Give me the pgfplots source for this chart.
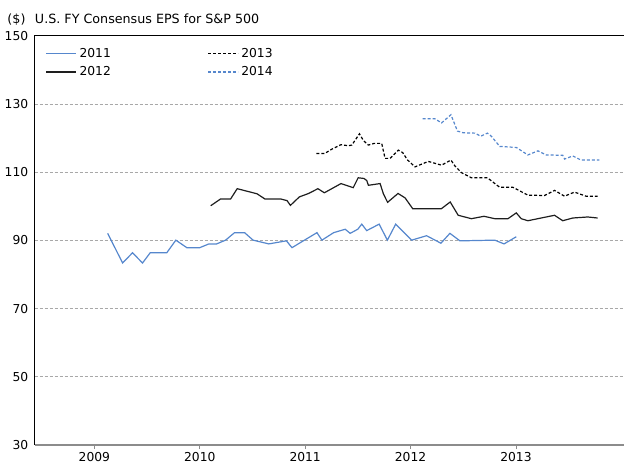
\documentclass[border=0pt]{standalone}
\usepackage{fontspec}
\setmainfont{DejaVu Sans}
\usepackage{pgfplots}
\pgfplotsset{compat=1.18}
\definecolor{serblue}{RGB}{86,135,205}
\definecolor{serblack}{RGB}{30,30,30}
\definecolor{gridgray}{RGB}{168,168,168}
\definecolor{axgray}{RGB}{140,140,140}
\begin{document}
\fontsize{12.3bp}{14bp}\selectfont
\begin{tikzpicture}
\begin{axis}[
  scale only axis, width=589.5bp, height=409bp,
  xmin=2008.432, xmax=2014.025, ymin=30, ymax=150,
  clip=false,
  axis line style={draw=none},
  xtick={2009,2010,2011,2012,2013},
  xticklabels={2009,2010,2011,2012,2013},
  ytick={30,50,70,90,110,130,150},
  xtick pos=bottom, tick align=outside,
  major tick length=4bp,
  x tick style={axgray, line width=0.8bp},
  y tick style={draw=none},
  /pgf/number format/assume math mode=true,
  xticklabel style={yshift=0.5bp},
  yticklabel style={xshift=2bp},
  ymajorgrids,
  y grid style={gridgray, line width=1bp, dash pattern=on 3bp off 2bp},
  legend columns=2, transpose legend,
  legend style={draw=none, fill=none, at={(0,1)}, anchor=north west,
    xshift=8bp, yshift=-7.5bp, row sep=2.5bp,
    nodes={inner sep=2.5bp},
    /tikz/every even column/.append style={column sep=94bp}},
  legend image code/.code={\draw[#1, line width=1.4bp] (0bp,0bp) -- (30bp,0bp);},
]
\coordinate (SW) at (rel axis cs:0,0);
\coordinate (NE) at (rel axis cs:1,1);
\addplot[serblue, line width=1.2bp] coordinates {
(2009.126,92.1) (2009.268,83.4) (2009.362,86.4) (2009.457,83.4) (2009.530,86.4) (2009.687,86.4) (2009.773,90.1) (2009.877,87.9) (2010.000,87.9) (2010.087,89.0) (2010.160,89.0) (2010.245,90.1) (2010.330,92.3) (2010.425,92.3) (2010.506,90.1) (2010.655,89.0) (2010.822,89.9) (2010.875,87.9) (2011.112,92.3) (2011.159,90.1) (2011.270,92.3) (2011.380,93.3) (2011.427,92.1) (2011.499,93.3) (2011.537,94.8) (2011.584,92.9) (2011.702,94.8) (2011.780,90.1) (2011.859,94.8) (2012.010,90.1) (2012.152,91.4) (2012.288,89.2) (2012.373,92.1) (2012.468,89.9) (2012.799,90.1) (2012.887,89.0) (2013.003,91.1)
};
\addlegendentry{2011}
\addplot[serblack, line width=1.2bp] coordinates {
(2010.104,100.2) (2010.198,102.2) (2010.293,102.2) (2010.355,105.2) (2010.544,103.7) (2010.617,102.2) (2010.766,102.2) (2010.828,101.7) (2010.860,100.3) (2010.945,102.8) (2011.033,103.8) (2011.121,105.2) (2011.182,104.0) (2011.340,106.7) (2011.456,105.5) (2011.503,108.4) (2011.558,108.2) (2011.584,107.6) (2011.600,106.2) (2011.711,106.7) (2011.742,103.7) (2011.782,101.2) (2011.881,103.8) (2011.948,102.5) (2012.021,99.3) (2012.291,99.3) (2012.376,101.3) (2012.452,97.4) (2012.577,96.4) (2012.697,97.1) (2012.799,96.4) (2012.924,96.4) (2013.003,98.1) (2013.050,96.4) (2013.113,95.8) (2013.239,96.6) (2013.366,97.4) (2013.444,95.8) (2013.539,96.6) (2013.681,96.9) (2013.775,96.6)
};
\addlegendentry{2012}
\addplot[black, line width=1.2bp, dash pattern=on 3bp off 2bp] coordinates {
(2011.106,115.5) (2011.184,115.5) (2011.253,116.8) (2011.339,118.1) (2011.411,117.8) (2011.443,118.0) (2011.515,121.3) (2011.553,119.3) (2011.600,118.0) (2011.657,118.5) (2011.726,118.5) (2011.758,114.1) (2011.806,114.1) (2011.884,116.5) (2011.925,115.8) (2011.972,113.6) (2012.042,111.6) (2012.168,113.2) (2012.294,112.1) (2012.383,113.6) (2012.420,111.9) (2012.483,109.9) (2012.577,108.4) (2012.729,108.4) (2012.846,105.6) (2012.972,105.6) (2013.113,103.3) (2013.271,103.2) (2013.366,104.7) (2013.461,103.0) (2013.555,104.2) (2013.665,103.0) (2013.775,103.0)
};
\addlegendentry{2013}
\addplot[serblue, line width=1.2bp, dash pattern=on 3bp off 2bp] coordinates {
(2012.114,125.7) (2012.231,125.7) (2012.294,124.5) (2012.383,126.9) (2012.445,122.1) (2012.499,121.6) (2012.609,121.5) (2012.666,120.6) (2012.729,121.5) (2012.766,120.6) (2012.846,117.6) (2013.003,117.3) (2013.113,115.1) (2013.208,116.3) (2013.287,115.1) (2013.444,115.0) (2013.461,113.9) (2013.539,114.8) (2013.617,113.6) (2013.792,113.6)
};
\addlegendentry{2014}
\draw[axgray, line width=1.2bp] (rel axis cs:0,0) -- (rel axis cs:1,0);
\draw[black, line width=1bp] (rel axis cs:0,0) -- (rel axis cs:0,1) -- (rel axis cs:1,1);
\node[anchor=base west, inner sep=0pt, font=\fontsize{12.7bp}{14bp}\selectfont] at ([xshift=-27.2bp,yshift=12.6bp]rel axis cs:0,1) {(\$)\hspace{0.75em}U.S. FY Consensus EPS for S\&P 500};
\end{axis}
\pgfresetboundingbox
\path[use as bounding box] ([xshift=-34.5bp,yshift=-21bp]SW) rectangle ([yshift=36bp]NE);
\end{tikzpicture}
\end{document}
